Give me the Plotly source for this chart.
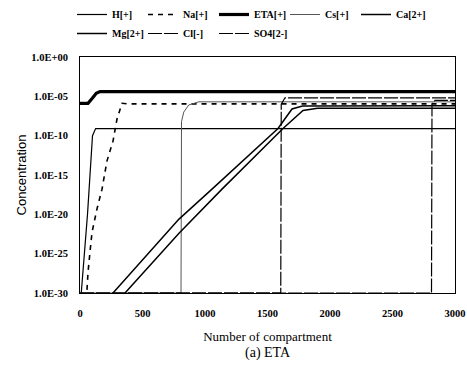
import plotly.graph_objects as go

# ---- simulated ion concentrations along the column (compartment index -> mol/L) ----
h_x = [10, 60, 100, 125, 3000]
h_y = [1e-30, 1e-20, 1e-10, 8e-10, 8e-10]

na_x = [56, 64, 80, 96, 136, 176, 216, 264, 296, 336, 380, 3000]
na_y = [2.5e-30, 4e-28, 1.6e-25, 5e-23, 5e-20, 1.6e-17, 6.3e-14, 2e-11, 1.3e-8, 1.3e-6, 1.1e-6, 1.1e-6]

eta_x = [0, 64, 100, 130, 160, 3000]
eta_y = [1.3e-6, 1.3e-6, 6e-6, 2.5e-5, 4e-5, 4e-5]

cs_x = [0, 808, 812, 830, 870, 950, 3000]
cs_y = [1e-30, 1e-30, 6e-9, 1e-7, 8e-7, 2e-6, 2e-6]

ca_x = [264, 792, 1056, 1584, 1696, 1780, 3000]
ca_y = [1e-30, 2.5e-21, 1.6e-17, 8e-10, 2.5e-7, 6e-7, 6.3e-7]

mg_x = [360, 792, 1136, 1624, 1784, 1900, 3000]
mg_y = [1e-30, 4e-23, 1.6e-17, 8e-10, 1.6e-7, 3e-7, 3e-7]

cl_x = [0, 1606, 1610, 1640, 3000]
cl_y = [1e-30, 1e-30, 1e-6, 6.5e-6, 6.5e-6]

so4_x = [0, 2812, 2816, 2840, 3000]
so4_y = [1e-30, 1e-30, 1e-6, 3e-6, 3e-6]

x_ticks = [0, 500, 1000, 1500, 2000, 2500, 3000]
y_ticks = [1e0, 1e-5, 1e-10, 1e-15, 1e-20, 1e-25, 1e-30]
y_tick_text = ["1.0E+00", "1.0E-05", "1.0E-10", "1.0E-15", "1.0E-20", "1.0E-25", "1.0E-30"]

series = [
    ("H[+]", h_x, h_y, dict(color="black", width=1.2, dash="solid")),
    ("Na[+]", na_x, na_y, dict(color="black", width=1.6, dash="5px,5px")),
    ("ETA[+]", eta_x, eta_y, dict(color="black", width=3.2, dash="solid")),
    ("Cs[+]", cs_x, cs_y, dict(color="#555555", width=1.0, dash="solid")),
    ("Ca[2+]", ca_x, ca_y, dict(color="black", width=1.5, dash="solid")),
    ("Mg[2+]", mg_x, mg_y, dict(color="black", width=1.5, dash="solid")),
    ("Cl[-]", cl_x, cl_y, dict(color="black", width=1.2, dash="14px,2px")),
    ("SO4[2-]", so4_x, so4_y, dict(color="black", width=1.2, dash="14px,2px")),
]


def bold(s):
    return "<b>" + s + "</b>"


fig = go.Figure()
for name, xs, ys, line in series:
    fig.add_trace(go.Scatter(x=xs, y=ys, mode="lines", name=bold(name), line=line))

SERIF = "Liberation Serif"
tick_font = dict(family=SERIF, size=10.5, color="black")

fig.update_layout(
    width=467,
    height=374,
    margin=dict(l=80, r=12, t=57, b=81, autoexpand=False),
    paper_bgcolor="white",
    plot_bgcolor="white",
    showlegend=True,
    legend=dict(
        orientation="h",
        xref="container",
        yref="container",
        x=72 / 467,
        y=1.0,
        xanchor="left",
        yanchor="top",
        entrywidth=26,
        entrywidthmode="pixels",
        itemwidth=30,
        font=dict(family=SERIF, size=10, color="black"),
        bgcolor="rgba(0,0,0,0)",
        tracegroupgap=0,
    ),
    xaxis=dict(
        range=[0, 3000],
        tickvals=x_ticks,
        ticktext=[bold(str(v)) for v in x_ticks],
        tickfont=tick_font,
        showgrid=False,
        zeroline=False,
        showline=True,
        mirror=True,
        linecolor="black",
        linewidth=1,
        ticks="",
        ticklabelstandoff=10,
        title=dict(text="Number of compartment",
                   font=dict(family=SERIF, size=13, color="black"),
                   standoff=14),
    ),
    yaxis=dict(
        type="log",
        range=[-30, 0],
        tickvals=y_ticks,
        ticktext=[bold(t) for t in y_tick_text],
        tickfont=tick_font,
        showgrid=False,
        zeroline=False,
        showline=True,
        mirror=True,
        linecolor="black",
        linewidth=1,
        ticks="",
        ticklabelstandoff=9,
        title=dict(text="Concentration",
                   font=dict(family="Liberation Sans", size=13, color="black"),
                   standoff=1),
    ),
    annotations=[
        dict(text="(a) ETA", xref="paper", yref="paper", x=0.5, y=(293 - 353) / 236,
             showarrow=False, font=dict(family=SERIF, size=14, color="black"),
             xanchor="center", yanchor="middle"),
    ],
)

fig.write_html("out.html")
